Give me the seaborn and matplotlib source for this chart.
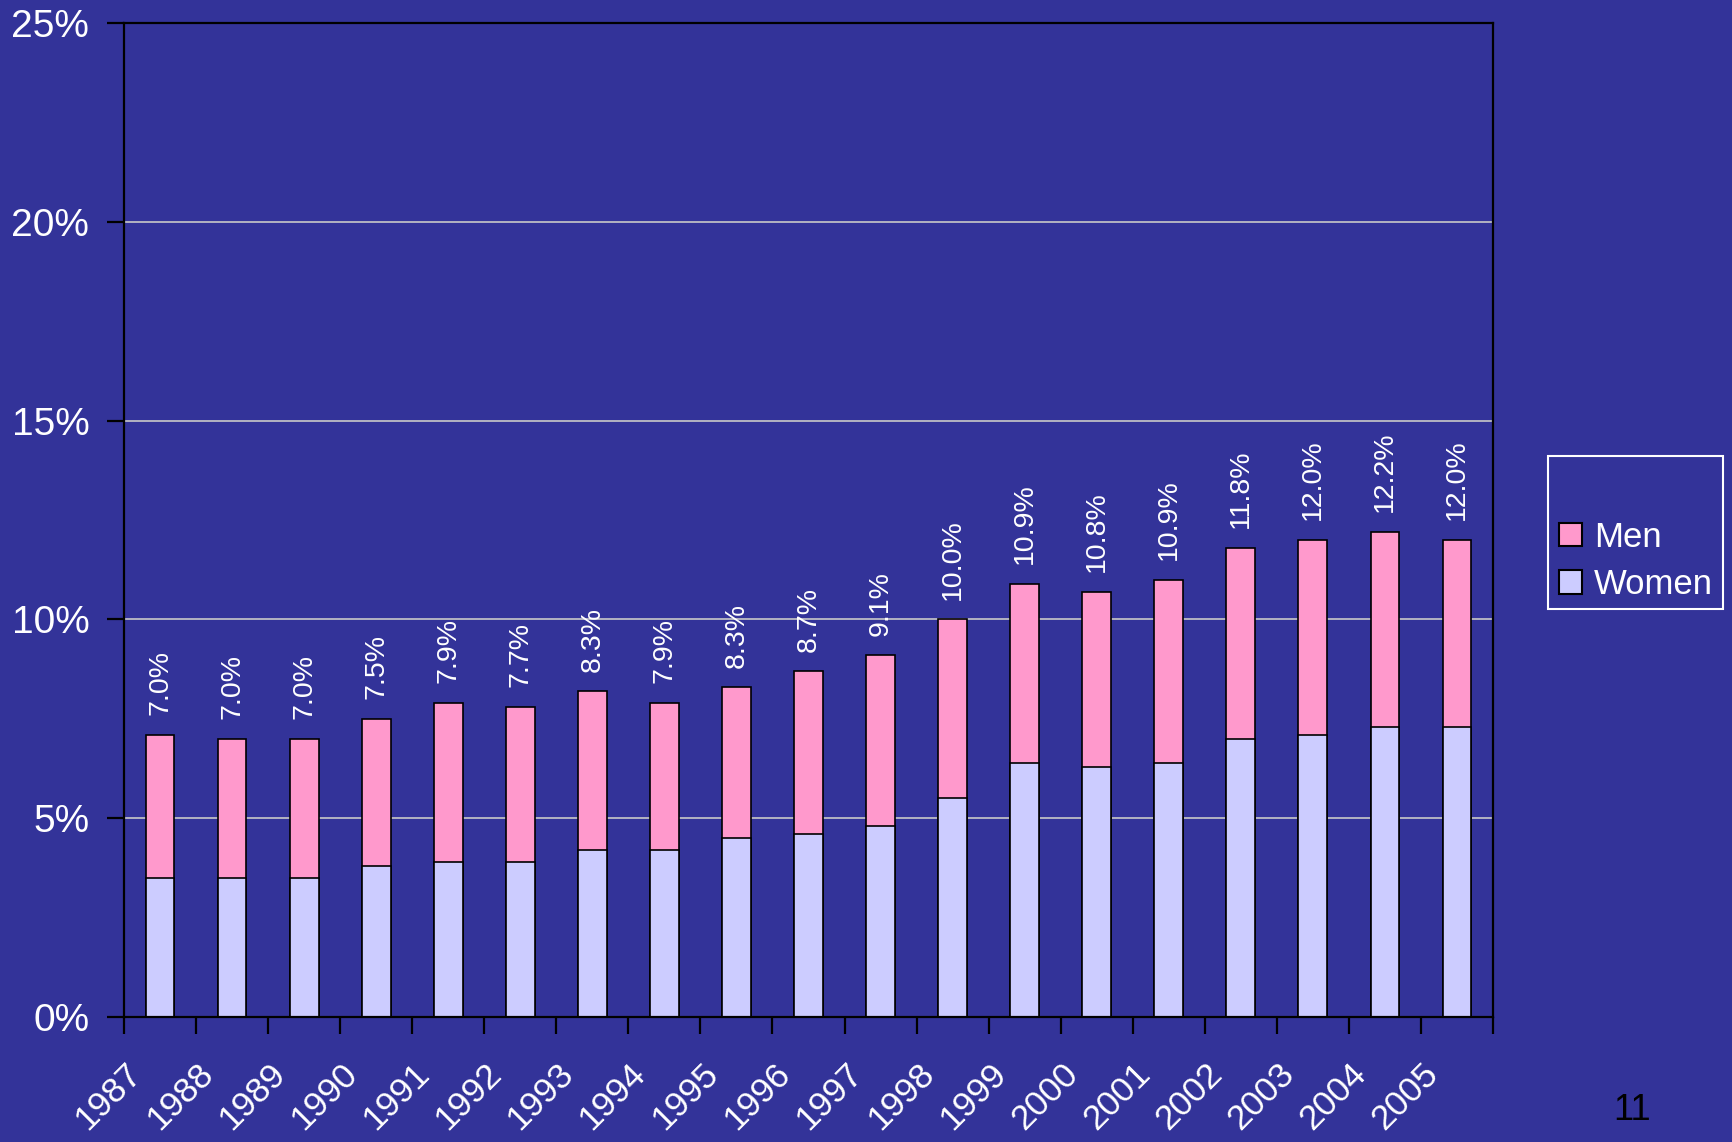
import numpy as np
import pandas as pd
import seaborn as sns
import matplotlib.pyplot as plt
from matplotlib.patches import Rectangle, Patch

# Values (percent)
years = [str(y) for y in range(1987, 2006)]
women = [3.5, 3.5, 3.5, 3.8, 3.9, 3.9, 4.2, 4.2, 4.5, 4.6,
         4.8, 5.5, 6.4, 6.3, 6.4, 7.0, 7.1, 7.3, 7.3]
men = [3.6, 3.5, 3.5, 3.7, 4.0, 3.9, 4.0, 3.7, 3.8, 4.1,
       4.3, 4.5, 4.5, 4.4, 4.6, 4.8, 4.9, 4.9, 4.7]
total_labels = ["7.0%", "7.0%", "7.0%", "7.5%", "7.9%", "7.7%", "8.3%",
                "7.9%", "8.3%", "8.7%", "9.1%", "10.0%", "10.9%", "10.8%",
                "10.9%", "11.8%", "12.0%", "12.2%", "12.0%"]
y_ticks = [0, 5, 10, 15, 20, 25]

bg = "#333399"
pink = "#FF99CC"
lilac = "#CCCCFF"

df = pd.DataFrame({"Year": years, "Women": women, "Men": men})
df["Total"] = df["Women"] + df["Men"]

sns.set_theme(style="white")
plt.rcParams["font.family"] = ["Liberation Sans", "DejaVu Sans"]

fig = plt.figure(figsize=(17.33, 11.42), dpi=100, facecolor=bg)
ax = fig.add_axes([124 / 1733, 1 - 1017 / 1142, (1493 - 124) / 1733, (1017 - 23) / 1142])
ax.set_facecolor(bg)

# stacked bars: total (men on top) drawn first, women over it
sns.barplot(data=df, x="Year", y="Total", color=pink, saturation=1, width=0.4,
            edgecolor="black", linewidth=1.2, ax=ax)
sns.barplot(data=df, x="Year", y="Women", color=lilac, saturation=1, width=0.4,
            edgecolor="black", linewidth=1.2, ax=ax)

# value labels above each bar
for i, (t, lab) in enumerate(zip(df["Total"], total_labels)):
    ax.annotate(lab, (i, t), xytext=(0, 14), textcoords="offset points",
                rotation=90, ha="center", va="bottom", color="white", fontsize=20.5)

ax.set_xlim(-0.5, len(years) - 0.5)
ax.set_ylim(0, 25)
ax.set_yticks(y_ticks)
ax.set_yticklabels([f"{v}%" for v in y_ticks])
ax.yaxis.grid(True, color="#C8C8C8", linewidth=1.2)
ax.set_axisbelow(True)
ax.set_xlabel("")
ax.set_ylabel("")

for s in ax.spines.values():
    s.set_color("black")
    s.set_linewidth(1.6)
    s.set_visible(True)

ax.tick_params(axis="y", left=True, length=12, width=1.6, color="black",
               labelsize=28, labelcolor="white", pad=13)

# year labels sit left of the bar centres, tick marks at category edges
ax.set_xticks(np.arange(len(years)) - 0.33)
ax.set_xticklabels(years, rotation=45, ha="right", va="center", rotation_mode="anchor")
ax.tick_params(axis="x", which="major", length=0, labelsize=25.5,
               labelcolor="white", pad=37)
ax.set_xticks(np.arange(-0.5, len(years), 1), minor=True)
ax.tick_params(axis="x", which="minor", bottom=True, length=12, width=1.6, color="black")

# legend with its Excel-style box
fig.patches.append(Rectangle((1548 / 1733, 1 - 609 / 1142), (1723 - 1548) / 1733,
                             (609 - 456) / 1142, transform=fig.transFigure,
                             fill=False, edgecolor="white", linewidth=1.5))
handles = [Patch(facecolor=pink, edgecolor="black", linewidth=1.5, label="Men"),
           Patch(facecolor=lilac, edgecolor="black", linewidth=1.5, label="Women")]
fig.legend(handles=handles, loc="center left", bbox_to_anchor=(1559 / 1733, 1 - 561 / 1142),
           frameon=False, fontsize=25, labelcolor="white", borderpad=0, borderaxespad=0,
           handlelength=0.66, handleheight=0.66, handletextpad=0.35, labelspacing=0.42)

# slide number
fig.text(1632 / 1733, 1 - 1110 / 1142, "11", color="black", fontsize=26,
         ha="center", va="center")

fig.savefig("out.png", dpi=100, facecolor=bg)
